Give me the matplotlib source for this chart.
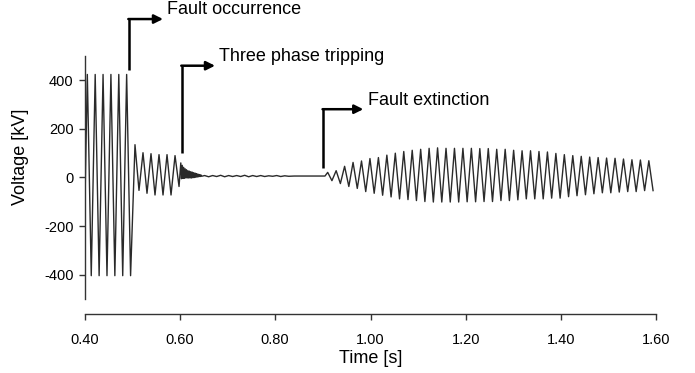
import numpy as np
import matplotlib.pyplot as plt

plt.rcParams['font.family'] = ['Liberation Sans', 'DejaVu Sans']
plt.rcParams['axes.unicode_minus'] = False

# Values (time in s, voltage in kV)

# pre-fault swing, 0.40 - 0.50 s
pre_t0 = 0.4059
pre_period = 0.0165
pre_peaks = [424, 424, 424, 424, 424, 424]
pre_troughs = [-404, -404, -404, -404, -404, -404]

# faulted line, 0.50 - 0.60 s
fault_t0 = 0.5059
fault_period = 0.0168
fault_peaks = [135, 102, 98, 94, 94, 90]
fault_troughs = [-53, -65, -72, -72, -72, -37]

# tripping transient, 0.60 - 0.65 s (successive extremes)
trip_t0 = 0.6020
trip_step = 0.0015
trip_extremes = [60, -5, 50, -4, 42, -3, 36, -2, 32, -2, 28, -2, 26, -2, 24,
                 -2, 22, -1, 20, 0, 18, 1, 16, 2, 14, 3, 12, 4, 11, 5]

# dead time ripple, 0.65 - 0.90 s
dead_t0 = 0.6520
dead_period = 0.0168
dead_peaks = [8, 8, 9, 8, 8, 9, 8, 8, 7, 8, 7]
dead_troughs = [3, 4, 3, 4, 4, 3, 4, 4, 5, 4, 5]
dead_end = [(0.8400, 6), (0.9045, 6)]

# after fault extinction, 0.91 - 1.60 s
post_t0 = 0.9102
post_period = 0.01773
post_peaks = [21, 28, 46, 62, 68, 78, 82, 92, 100, 107, 112, 116, 120, 122,
              120, 120, 120, 120, 119, 119, 116, 116, 112, 110, 110, 107, 105,
              99, 94, 90, 87, 84, 82, 80, 79, 76, 73, 72, 69]
post_troughs = [-13, -25, -37, -45, -58, -65, -73, -80, -88, -91, -95, -99,
                -101, -101, -101, -101, -100, -100, -99, -99, -95, -95, -92,
                -88, -88, -88, -85, -85, -79, -75, -71, -67, -63, -63, -60,
                -58, -58, -54, -54]


def swing(t0, period, peaks, troughs):
    t, v = [], []
    for k, (p, q) in enumerate(zip(peaks, troughs)):
        t += [t0 + k * period, t0 + (k + 0.5) * period]
        v += [p, q]
    return t, v


def build_signal():
    t, v = [0.400], [-200]
    for seg in [swing(pre_t0, pre_period, pre_peaks, pre_troughs),
                swing(fault_t0, fault_period, fault_peaks, fault_troughs)]:
        t += seg[0]
        v += seg[1]
    for k, val in enumerate(trip_extremes):
        t.append(trip_t0 + k * trip_step)
        v.append(val)
    st, sv = swing(dead_t0, dead_period, dead_peaks, dead_troughs)
    t += st
    v += sv
    for tt, vv in dead_end:
        t.append(tt)
        v.append(vv)
    st, sv = swing(post_t0, post_period, post_peaks, post_troughs)
    t += st
    v += sv
    return np.array(t), np.array(v)


def add_marker(ax, x, y_top, y_bot, x_tip, text, y_text):
    ax.plot([x, x], [y_bot, y_top], color='black', lw=1.8, clip_on=False,
            solid_capstyle='butt')
    ax.annotate('', xy=(x_tip, y_top), xytext=(x - 0.0015, y_top),
                annotation_clip=False,
                arrowprops=dict(arrowstyle='-|>', color='black', lw=1.8,
                                mutation_scale=13, shrinkA=0, shrinkB=0))
    ax.text(x_tip + 0.009, y_text, text, fontsize=13, va='center', ha='left',
            clip_on=False)


def main():
    t, v = build_signal()

    fig = plt.figure(figsize=(6.95, 3.73), dpi=100)
    ax = fig.add_axes([0.1216, 0.1984, 0.823, 0.6515])

    ax.plot(t, v, color='#2a2a2a', lw=1.0)

    ax.set_xlim(0.4, 1.6)
    ax.set_ylim(-500, 500)
    ax.set_xticks(np.arange(0.4, 1.61, 0.2))
    ax.set_xticklabels([f'{x:.2f}' for x in np.arange(0.4, 1.61, 0.2)])
    ax.set_yticks([-400, -200, 0, 200, 400])
    ax.tick_params(labelsize=10.5, length=4, width=1, color='#333333',
                   pad=4)
    ax.tick_params(axis='x', pad=9.5)
    ax.spines['top'].set_visible(False)
    ax.spines['right'].set_visible(False)
    ax.spines['bottom'].set_position(('outward', 11))
    for s in ['left', 'bottom']:
        ax.spines[s].set_color('#333333')
        ax.spines[s].set_linewidth(1)

    ax.set_xlabel('Time [s]', fontsize=13, labelpad=2)
    ax.set_ylabel('Voltage [kV]', fontsize=13)
    ax.yaxis.set_label_coords(-0.097, 0.585)

    add_marker(ax, 0.4934, 652, 442, 0.5647, 'Fault occurrence', 690)
    add_marker(ax, 0.6045, 460, 101, 0.6738, 'Three phase tripping', 497)
    add_marker(ax, 0.9009, 281, 38, 0.9849, 'Fault extinction', 316)

    plt.savefig('out.png', dpi=100)


if __name__ == "__main__":
    main()
